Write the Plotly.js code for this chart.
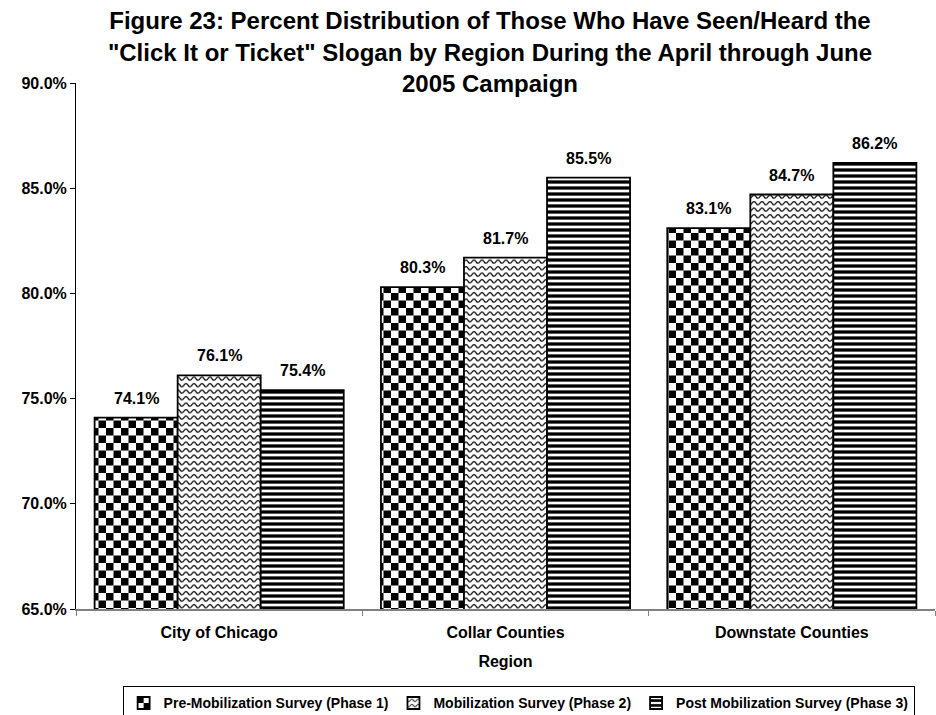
<!DOCTYPE html>
<html>
<head>
<meta charset="utf-8">
<script src="https://cdn.plot.ly/plotly-3.0.1.min.js"></script>
<style>html,body{margin:0;padding:0;background:#fff;}#chart{width:936px;height:715px;}</style>
</head>
<body>
<div id="chart"></div>
<script>
var categories = ["City of Chicago", "Collar Counties", "Downstate Counties"];
var seriesNames = ["Pre-Mobilization Survey (Phase 1)", "Mobilization Survey (Phase 2)", "Post Mobilization Survey (Phase 3)"];
var preValues = [74.1, 80.3, 83.1];
var mobValues = [76.1, 81.7, 84.7];
var postValues = [75.4, 85.5, 86.2];
var yTicks = [65, 70, 75, 80, 85, 90];

var FONT = "Arial, 'Liberation Sans', sans-serif";
var seriesValues = [preValues, mobValues, postValues];
var shapes = [".", "x", "-"];
var BARGAP = 0.13;
var nSeries = seriesValues.length;
var barFrac = (1 - BARGAP) / nSeries;

var traces = seriesValues.map(function (vals, i) {
  return {
    type: "bar",
    name: seriesNames[i],
    x: categories,
    y: vals,
    marker: {
      color: "#fff",
      line: {color: "#000", width: 1.8},
      pattern: {shape: shapes[i], fgcolor: "#000", bgcolor: "#fff", size: 6, solidity: 0.55, fillmode: "replace"}
    },
    hoverinfo: "skip"
  };
});

var annotations = [];
seriesValues.forEach(function (vals, i) {
  vals.forEach(function (v, c) {
    annotations.push({
      xref: "x", yref: "y",
      x: c + (i - (nSeries - 1) / 2) * barFrac,
      y: v,
      text: "<b>" + v.toFixed(1) + "%</b>",
      showarrow: false,
      xanchor: "center", yanchor: "bottom", yshift: 9,
      font: {family: FONT, size: 16, color: "#000"}
    });
  });
});

var layout = {
  width: 936, height: 715,
  margin: {l: 76, r: 1, t: 83, b: 106},
  paper_bgcolor: "#fff", plot_bgcolor: "#fff",
  font: {family: FONT, color: "#000"},
  title: {
    text: "<b>Figure 23: Percent Distribution of Those Who Have Seen/Heard the<br>\"Click It or Ticket\" Slogan by Region During the April through June<br>2005 Campaign</b>",
    font: {family: FONT, size: 24, color: "#000"},
    xref: "container", x: 0.5235, xanchor: "center",
    yref: "container", y: 0.959, yanchor: "middle"
  },
  barmode: "group", bargap: BARGAP, bargroupgap: 0,
  showlegend: true,
  annotations: annotations,
  legend: {
    orientation: "h",
    xref: "container", x: 0.131, xanchor: "left",
    yref: "container", y: 0.04, yanchor: "top",
    bordercolor: "#000", borderwidth: 1,
    font: {family: FONT, size: 14, color: "#000", weight: "bold"},
    itemwidth: 30, tracegroupgap: 0
  },
  xaxis: {
    type: "category",
    tickson: "boundaries", ticks: "outside", ticklen: 5, tickcolor: "#808080",
    ticklabelstandoff: 8,
    showline: true, linecolor: "#808080", linewidth: 1.5,
    tickfont: {family: FONT, size: 16, color: "#000", weight: "bold"},
    title: {text: "<b>Region</b>", font: {family: FONT, size: 16, color: "#000"}, standoff: 16},
    showgrid: false, zeroline: false
  },
  yaxis: {
    range: [65, 90], tickvals: yTicks,
    ticktext: yTicks.map(function (v) { return v.toFixed(1) + "%"; }),
    ticks: "outside", ticklen: 5, tickcolor: "#000",
    showline: true, linecolor: "#000", linewidth: 1,
    tickfont: {family: FONT, size: 16, color: "#000", weight: "bold"},
    showgrid: false, zeroline: false
  }
};

var NS = "http://www.w3.org/2000/svg";
function el(name, attrs) {
  var e = document.createElementNS(NS, name);
  for (var k in attrs) e.setAttribute(k, attrs[k]);
  return e;
}
function rewritePattern(p, kind) {
  while (p.firstChild) p.removeChild(p.firstChild);
  if (kind === 0) {
    p.setAttribute("width", 15); p.setAttribute("height", 15);
    p.appendChild(el("rect", {x: 0, y: 0, width: 15, height: 15, fill: "#fff"}));
    p.appendChild(el("rect", {x: 0, y: 0, width: 7.5, height: 7.5, fill: "#000"}));
    p.appendChild(el("rect", {x: 7.5, y: 7.5, width: 7.5, height: 7.5, fill: "#000"}));
  } else if (kind === 1) {
    p.setAttribute("width", 8); p.setAttribute("height", 6.5);
    p.appendChild(el("rect", {x: 0, y: 0, width: 8, height: 6.5, fill: "#fff"}));
    p.appendChild(el("path", {d: "M-4,3.2 Q-2,0 0,3.2 Q2,6.4 4,3.2 Q6,0 8,3.2 Q10,6.4 12,3.2", fill: "none", stroke: "#111", "stroke-width": 1.3}));
  }
}
function patternFor(path) {
  var f = path.style.fill || path.getAttribute("fill") || "";
  var m = f.match(/#([^'"\)]+)/);
  if (!m) return null;
  return document.getElementById(m[1]);
}

var gd = document.getElementById("chart");
Plotly.newPlot(gd, traces, layout, {staticPlot: true}).then(function () {
  var barTraces = gd.querySelectorAll(".barlayer .trace");
  barTraces.forEach(function (t, i) {
    if (i > 1) return;
    var done = {};
    t.querySelectorAll(".point path").forEach(function (p) {
      var pat = patternFor(p);
      if (pat && !done[pat.id]) { done[pat.id] = 1; rewritePattern(pat, i); }
    });
  });
  var legTraces = gd.querySelectorAll(".legend .traces");
  legTraces.forEach(function (t, i) {
    if (i > 1) return;
    t.querySelectorAll(".legendpoints path").forEach(function (p) {
      var pat = patternFor(p);
      if (pat) rewritePattern(pat, i);
    });
  });
});
</script>
</body>
</html>
